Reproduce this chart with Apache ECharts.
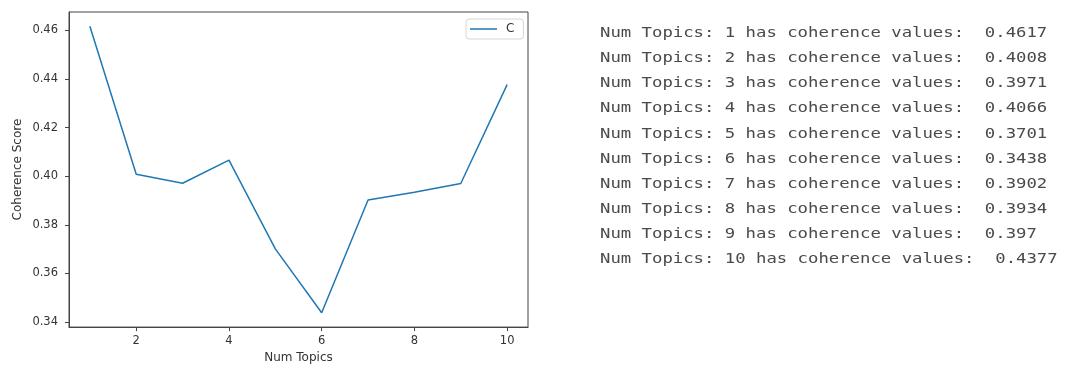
<!DOCTYPE html>
<html>
<head>
<meta charset="utf-8">
<script src="https://cdn.jsdelivr.net/npm/echarts@6/dist/echarts.min.js"></script>
<style>
html,body{margin:0;padding:0;background:#fff;}
#chart{width:1065px;height:369px;}
</style>
</head>
<body>
<div id="chart"></div>
<script>
// Data
var numTopics = [1, 2, 3, 4, 5, 6, 7, 8, 9, 10];
var coherence = [0.4617, 0.4008, 0.3971, 0.4066, 0.3701, 0.3438, 0.3902, 0.3934, 0.397, 0.4377];
var printedValues = ['0.4617', '0.4008', '0.3971', '0.4066', '0.3701', '0.3438', '0.3902', '0.3934', '0.397', '0.4377'];
var xTicks = [2, 4, 6, 8, 10];
var yTicks = [0.34, 0.36, 0.38, 0.40, 0.42, 0.44, 0.46];
var seriesName = 'C';

var chart = echarts.init(document.getElementById('chart'), null, {renderer: 'canvas'});

var points = numTopics.map(function (n, i) { return [n, coherence[i]]; });

var textLines = numTopics.map(function (n, i) {
  return {
    type: 'text',
    x: 600,
    y: 33.5 + i * 25.1,
    scaleX: 1.234,
    style: {
      text: 'Num Topics: ' + n + ' has coherence values:  ' + printedValues[i],
      font: '14px "DejaVu Sans Mono", "Liberation Mono", monospace',
      fill: '#4a4a4a',
      textVerticalAlign: 'middle',
      textAlign: 'left'
    }
  };
});

var axisColor = '#444';
var labelColor = '#333';

chart.setOption({
  animation: false,
  backgroundColor: '#fff',
  grid: {
    left: 69, right: 537, top: 12, bottom: 38,
    show: true, borderColor: axisColor, borderWidth: 1, backgroundColor: 'transparent'
  },
  legend: {
    data: [{name: seriesName, icon: 'rect'}],
    left: 466, top: 19,
    padding: [3, 9, 3, 4],
    itemWidth: 27, itemHeight: 1.5,
    borderColor: '#d6d6d6', borderWidth: 1, borderRadius: 3,
    backgroundColor: '#fff',
    textStyle: {fontFamily: 'DejaVu Sans', fontSize: 12, color: '#333', padding: [0, 0, 0, 4], lineHeight: 14}
  },
  xAxis: {
    type: 'value',
    min: 0.55, max: 10.45,
    name: 'Num Topics',
    nameLocation: 'middle',
    nameGap: 24,
    nameTextStyle: {fontFamily: 'DejaVu Sans', fontSize: 12, color: labelColor},
    axisLine: {show: true, lineStyle: {color: axisColor, width: 1}},
    axisTick: {show: true, length: 4, lineStyle: {color: axisColor}, customValues: xTicks},
    axisLabel: {
      show: true, margin: 8, fontFamily: 'DejaVu Sans', fontSize: 11.5, color: labelColor,
      customValues: xTicks,
      formatter: function (v) { return String(v); }
    },
    splitLine: {show: false}
  },
  yAxis: {
    type: 'value',
    min: 0.3379, max: 0.4676,
    name: 'Coherence Score',
    nameLocation: 'middle',
    nameGap: 45,
    nameTextStyle: {fontFamily: 'DejaVu Sans', fontSize: 12, color: labelColor},
    axisLine: {show: true, lineStyle: {color: axisColor, width: 1}},
    axisTick: {show: true, length: 4, lineStyle: {color: axisColor}, customValues: yTicks},
    axisLabel: {
      show: true, margin: 11, fontFamily: 'DejaVu Sans', fontSize: 11.5, color: labelColor,
      customValues: yTicks,
      formatter: function (v) { return v.toFixed(2); }
    },
    splitLine: {show: false}
  },
  series: [{
    name: seriesName,
    type: 'line',
    data: points,
    symbol: 'none',
    lineStyle: {color: '#1f77b4', width: 1.5},
    itemStyle: {color: '#1f77b4'}
  }],
  graphic: textLines
});
</script>
</body>
</html>
